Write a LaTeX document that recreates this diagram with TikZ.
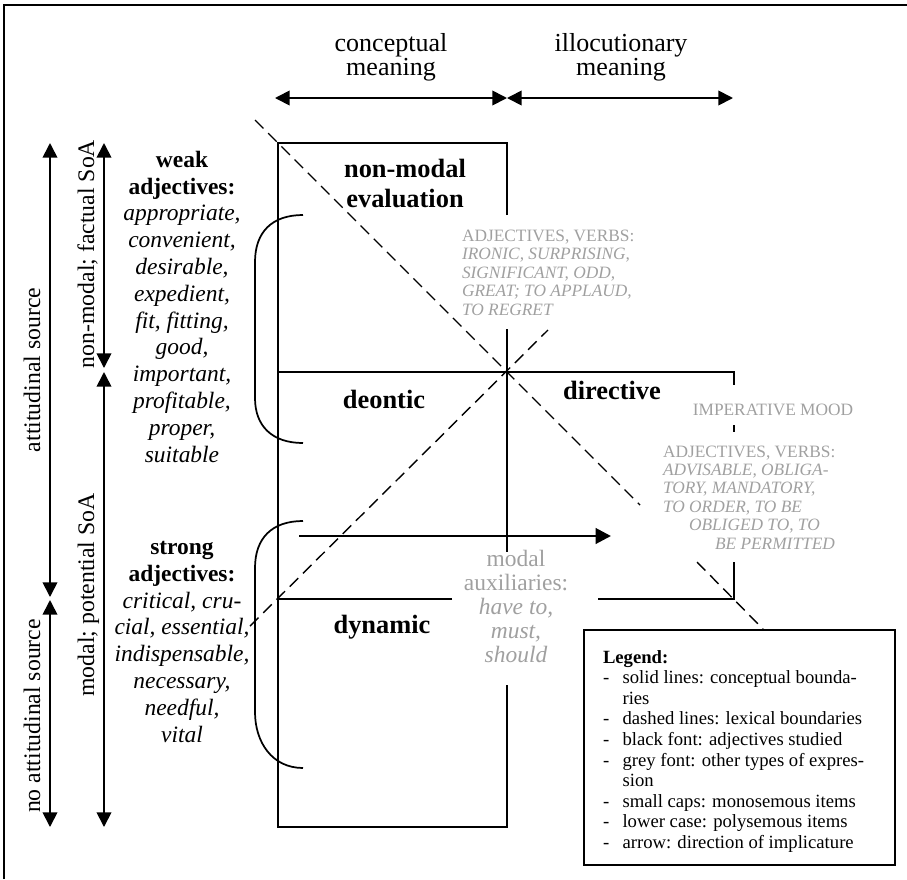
\documentclass[tikz,border=0pt]{standalone}
\usepackage{fontspec}
\setmainfont{Liberation Serif}
\usetikzlibrary{arrows.meta}
\definecolor{greyink}{RGB}{160,160,160}

\begin{document}
\begin{tikzpicture}[x=0.75pt,y=-0.75pt,
  frame/.style={line width=1.5pt},
  bound/.style={line width=1.3pt},
  thickbound/.style={line width=2.2pt},
  lexline/.style={line width=1.05pt, dash pattern=on 9pt off 5pt},
  twoway/.style={line width=1.3pt, {Triangle[length=11pt,width=11pt]}-{Triangle[length=11pt,width=11pt]}},
  implic/.style={line width=2.2pt, -{Triangle[length=11.5pt,width=11.5pt]}},
  plain/.style={inner sep=0pt, outer sep=0pt},
  toplabel/.style={plain, align=center, font=\fontsize{19.5}{18}\selectfont},
  title/.style={plain, align=center, font=\fontsize{19.8}{22.5}\selectfont\bfseries},
  sidetext/.style={plain, align=center, font=\fontsize{17.6}{20.1}\selectfont},
  scalelabel/.style={plain, rotate=90, font=\fontsize{17.8}{20}\selectfont},
  greycaps/.style={plain, align=left, text=greyink, font=\fontsize{13}{13.8}\selectfont},
  greyaux/.style={plain, align=center, text=greyink, font=\fontsize{17.6}{18}\selectfont},
  legendbox/.style={draw, line width=1.3pt, minimum width=233.25pt, minimum height=176.25pt, inner sep=0pt},
  legendtext/.style={plain, font=\fontsize{14}{15.4}\selectfont}
]
\useasboundingbox (0,0) rectangle (907,879);

% outer frame
\draw[frame] (4,879) -- (4,5) -- (907,5);

% meaning scales at the top
\coordinate (sl) at (275,98);
\coordinate (sm) at (507,98);
\coordinate (sr) at (733,98);
\draw[twoway] (sl) -- (sm);
\draw[twoway] (sm) -- (sr);
\node[toplabel, anchor=base] (conc) at (391,75) {conceptual\\meaning};
\node[toplabel, anchor=base] (illoc) at (621,75) {illocutionary\\meaning};

% corners of the conceptual boxes
\coordinate (tl) at (278,143);
\coordinate (tr) at (507,143);
\coordinate (ctr) at (507,372);
\coordinate (ml) at (278,372);
\coordinate (mr) at (734,372);
\coordinate (bl) at (278,599);
\coordinate (br) at (734,599);
\coordinate (dl) at (278,827);
\coordinate (dr) at (507,827);

% solid conceptual boundaries
\draw[bound] (507,215) -- (tr) -- (tl) -- (dl) -- (dr) -- (507,685);
\draw[bound] (507,329) -- (507,552);
\draw[bound] (ml) -- (mr) -- (734,385);
\draw[bound] (734,425) -- (734,432);
\draw[bound] (734,562) -- (br) -- (598,599);
\draw[bound] (452,599) -- (bl);
\draw[thickbound] (ml) -- (bl);

% dashed lexical boundaries
\draw[lexline] (255,120) -- (640,505);
\draw[lexline] (697,562) -- (763,629);
\draw[lexline] (250,626) -- (548,330);

% brackets grouping the adjectives
\draw[bound] (303,215) .. controls (272,215) and (255,232) .. (255,262)
  -- (255,398) .. controls (255,426) and (272,443) .. (303,443);
\draw[bound] (303,521) .. controls (272,521) and (255,538) .. (255,568)
  -- (255,712) .. controls (255,742) and (272,768) .. (303,768);

% direction of implicature
\coordinate (ia) at (299,536);
\coordinate (ib) at (611,536);
\draw[implic] (ia) -- (ib);

% vertical scales on the left
\coordinate (a1) at (50,143);
\coordinate (a2) at (50,597);
\coordinate (a3) at (50,600);
\coordinate (a4) at (50,827);
\coordinate (b1) at (104,143);
\coordinate (b2) at (104,368);
\coordinate (b3) at (104,372);
\coordinate (b4) at (104,827);
\draw[twoway] (a1) -- (a2);
\draw[twoway] (a3) -- (a4);
\draw[twoway] (b1) -- (b2);
\draw[twoway] (b3) -- (b4);
\node[scalelabel, anchor=base] (att) at (40,370) {attitudinal source};
\node[scalelabel, anchor=base] (noatt) at (40,716) {no attitudinal source};
\node[scalelabel, anchor=base] (fact) at (94,254) {non-modal; factual SoA};
\node[scalelabel, anchor=base] (pot) at (94,595) {modal; potential SoA};

% adjective lists
\node[sidetext, anchor=base] (weak) at (182,462)
  {\textbf{weak}\\\textbf{adjectives:}\\\textit{appropriate,}\\\textit{convenient,}\\
   \textit{desirable,}\\\textit{expedient,}\\\textit{fit, fitting,}\\\textit{good,}\\
   \textit{important,}\\\textit{profitable,}\\\textit{proper,}\\\textit{suitable}};
\node[sidetext, anchor=base] (strong) at (182,742)
  {\textbf{strong}\\\textbf{adjectives:}\\\textit{critical, cru-}\\\textit{cial, essential,}\\
   \textit{indispensable,}\\\textit{necessary,}\\\textit{needful,}\\\textit{vital}};

% area titles
\node[title, anchor=base] (nme) at (405,207) {non-modal\\evaluation};
\node[title, anchor=base] (deon) at (384,408) {deontic};
\node[title, anchor=base] (dirv) at (612,399) {directive};
\node[title, anchor=base] (dyn) at (382,633) {dynamic};

% other types of expression
\node[greycaps, anchor=base west] (evalx) at (462,315)
  {ADJECTIVES, VERBS:\\\textit{IRONIC, SURPRISING,}\\\textit{SIGNIFICANT, ODD,}\\
   \textit{GREAT; TO APPLAUD,}\\\textit{TO REGRET}};
\node[greycaps, anchor=base] (imper) at (773,415) {IMPERATIVE MOOD};
\node[greycaps, anchor=base west] (dirx) at (663,549)
  {ADJECTIVES, VERBS:\\\textit{ADVISABLE, OBLIGA-}\\\textit{TORY, MANDATORY,}\\
   \textit{TO ORDER, TO BE}\\\hspace*{19.5pt}\textit{OBLIGED TO, TO}\\\hspace*{39pt}\textit{BE PERMITTED}};
\node[greyaux, anchor=base] (aux) at (516,662)
  {modal\\auxiliaries:\\\textit{have to,}\\\textit{must,}\\\textit{should}};

% legend
\node[legendbox, anchor=north west] (legend) at (583,629) {};
\node[legendtext, anchor=north west] (legendlist) at (603,649)
  {\begin{tabular}{@{}l@{\hspace{10pt}}l@{}}
   \multicolumn{2}{@{}l}{\textbf{Legend:}}\\
   - & solid lines: conceptual bounda-\\
     & ries\\
   - & dashed lines: lexical boundaries\\
   - & black font: adjectives studied\\
   - & grey font: other types of expres-\\
     & sion\\
   - & small caps: monosemous items\\
   - & lower case: polysemous items\\
   - & arrow: direction of implicature
   \end{tabular}};
\end{tikzpicture}
\end{document}
